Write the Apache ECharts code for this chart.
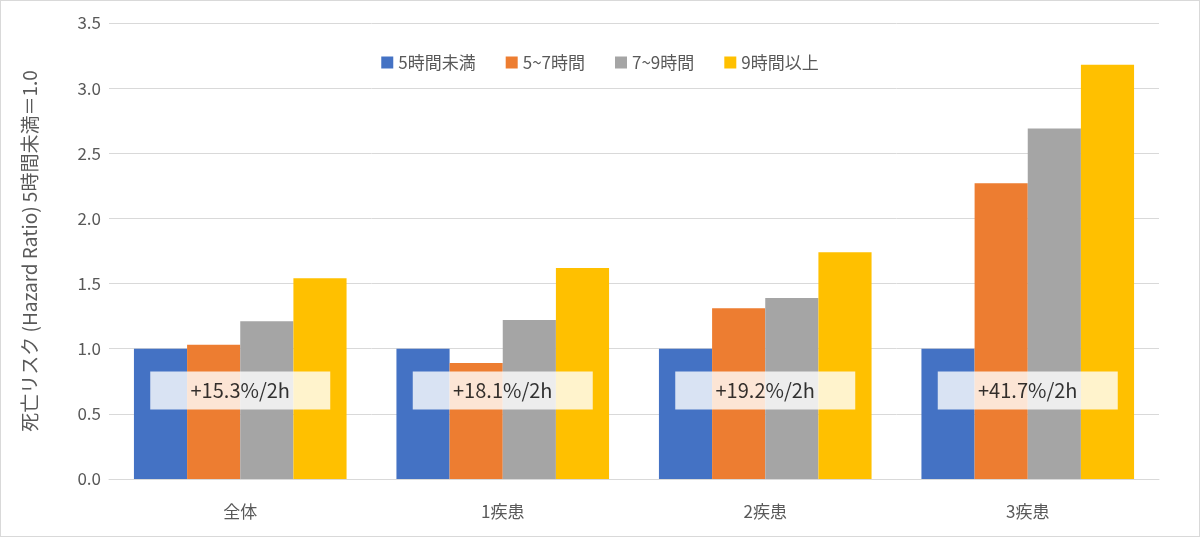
<!DOCTYPE html>
<html><head><meta charset="utf-8">
<script src="https://cdn.jsdelivr.net/npm/echarts@6/dist/echarts.min.js"></script>
<style>html,body{margin:0;padding:0;background:#fff}#c{width:1200px;height:537px;box-sizing:border-box;border:1px solid #d9d9d9}</style>
</head><body><div id="c"></div>
<script>
const categories = ['全体', '1疾患', '2疾患', '3疾患'];
const seriesNames = ['5時間未満', '5~7時間', '7~9時間', '9時間以上'];
const s1 = [1.0, 1.0, 1.0, 1.0];
const s2 = [1.03, 0.89, 1.31, 2.27];
const s3 = [1.21, 1.22, 1.39, 2.69];
const s4 = [1.54, 1.62, 1.74, 3.18];
const annotations = ['+15.3%/2h', '+18.1%/2h', '+19.2%/2h', '+41.7%/2h'];
const annotationY = [0.68, 0.68, 0.68, 0.68];
const colors = ['#4472c4', '#ed7d31', '#a5a5a5', '#ffc000'];
const font = 'Noto Sans CJK JP';
const chart = echarts.init(document.getElementById('c'));
const bars = [s1, s2, s3, s4].map((d, i) => ({
  name: seriesNames[i], type: 'bar', data: d, barGap: '0%', barCategoryGap: '19%',
  itemStyle: { color: colors[i] }
}));
bars.push({
  type: 'scatter', data: annotations.map((t, i) => [categories[i], annotationY[i]]),
  symbolSize: 0, z: 10, silent: true,
  label: { show: true, position: 'inside', formatter: p => annotations[p.dataIndex],
    backgroundColor: '#fff', color: '#000', fontSize: 20, fontFamily: font,
    width: 180, height: 38, lineHeight: 38, align: 'center', verticalAlign: 'middle' }
});
chart.setOption({
  textStyle: { fontFamily: font },
  legend: { data: seriesNames, top: 48, left: 'center', itemWidth: 12, itemHeight: 12, itemGap: 30,
    icon: 'rect', textStyle: { fontSize: 17, color: '#595959', fontFamily: font } },
  grid: { left: 108, right: 40, top: 22, bottom: 57 },
  xAxis: { type: 'category', data: categories,
    axisLine: { lineStyle: { color: '#d9d9d9' } }, axisTick: { show: false },
    axisLabel: { fontSize: 17, color: '#595959', margin: 24 } },
  yAxis: { type: 'value', min: 0, max: 3.5, interval: 0.5,
    name: '死亡リスク (Hazard Ratio) 5時間未満＝1.0', nameLocation: 'middle', nameGap: 70,
    nameTextStyle: { fontSize: 19, color: '#595959' },
    axisLabel: { fontSize: 17, color: '#595959', formatter: v => v.toFixed(1) },
    splitLine: { lineStyle: { color: '#d9d9d9' } } },
  series: bars
});
</script></body></html>
